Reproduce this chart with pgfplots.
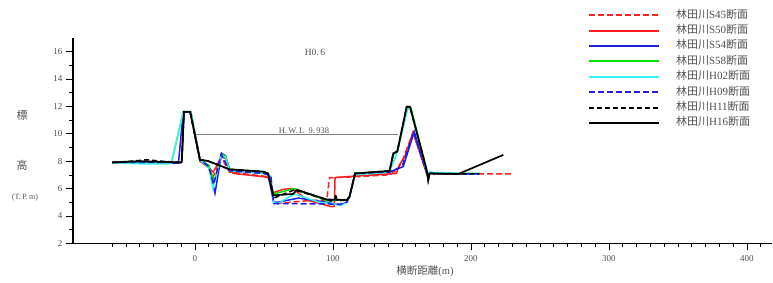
\documentclass[border=0pt]{standalone}
\usepackage{fontspec}
\setmainfont{Liberation Serif}
\newfontfamily\cjk{Noto Sans CJK JP}
\usepackage{pgfplots}
\pgfplotsset{compat=1.18}
\definecolor{cR}{RGB}{255,30,30}
\definecolor{cB}{RGB}{30,30,230}
\definecolor{cG}{RGB}{0,225,0}
\definecolor{cC}{RGB}{60,240,240}
\definecolor{txt}{RGB}{80,80,80}
\begin{document}
\begin{tikzpicture}
\useasboundingbox (0pt,0pt) rectangle (773pt,282pt);
\begin{axis}[
  at={(73pt,38.7pt)}, anchor=south west, scale only axis,
  width=698.8pt, height=205.5pt,
  xmin=-88.4, xmax=418, ymin=2, ymax=17,
  axis x line=bottom, axis y line=left,
  axis line style={-, line width=1.1pt, black},
  xtick={0,100,200,300,400}, minor xtick={-60,-50,...,410},
  ytick={2,4,...,16}, minor ytick={3,5,...,15},
  tick align=outside,
  major tick length=7pt, minor tick length=4pt,
  tick style={black, line width=0.6pt},
  ticklabel style={font=\fontsize{9}{10}\selectfont, text=txt},
  xticklabel style={yshift=-2pt},
  /pgf/number format/assume math mode=true,
  clip=false,
  legend cell align=left,
  legend image code/.code={\draw[line width=2pt,#1] (0pt,0pt) -- (70pt,0pt); \path (86pt,0pt);},
  legend style={at={(axis description cs:0.737,1.138)}, anchor=north west,
     draw=none, fill=none, inner sep=0pt, column sep=0pt, row sep=4.4pt,
     font=\fontsize{11}{12}\selectfont, text=txt,
     nodes={inner sep=0pt, text height=8.5pt, text depth=2.5pt}},
]
% S45
\addplot[cR, line width=1.5pt, dash pattern=on 6pt off 3pt] coordinates {
(-60,7.9) (-40,7.95) (-10,7.9) (-9.6,7.9) (-8,11.6) (-3.5,11.6) (3.6,8.0) (10,7.6) (13,6.8) (19,8.3) (25,7.2) (50,6.9) (54,6.8) (57,5.0) (60,4.9) (80,5.1) (95.5,5.16) (97.5,6.8) (101,6.8) (115,6.85) (141,7.0) (147,7.4) (151,8.2) (158,10.1) (168,7.06) (231,7.06)};
\addlegendentry{{\cjk 林田川}S45{\cjk 断面}}
% S50
\addplot[cR, line width=1.5pt] coordinates {
(-60,7.9) (-40,7.95) (-10,7.9) (-9.6,7.9) (-8,11.6) (-3.5,11.6) (3.6,8.0) (10,7.5) (13.3,7.2) (19,8.3) (22,8.2) (25,7.3) (27.8,7.1) (49.5,6.86) (53,6.8) (56.8,5.7) (64,5.94) (71,6.0) (81,5.16) (99,4.67) (101,4.7) (101.5,6.8) (114.7,6.9) (146,7.1) (148,7.7) (152,8.3) (158,10.1) (168,7.1) (206,7.06)};
\addlegendentry{{\cjk 林田川}S50{\cjk 断面}}
% S54
\addplot[cB, line width=1.5pt] coordinates {
(-60,7.9) (-40,7.9) (-12,7.85) (-8.5,11.6) (-3,11.6) (3.6,8.1) (10,7.6) (14.5,5.65) (19.3,8.57) (22,8.4) (25.4,7.3) (50,7.1) (53,7.0) (57,5.0) (60,5.0) (75,5.3) (95,5.0) (105,4.8) (110,5.0) (112,5.4) (116,7.1) (141,7.2) (150.9,7.6) (158.9,10.15) (168,7.1) (206,7.06)};
\addlegendentry{{\cjk 林田川}S54{\cjk 断面}}
% S58
\addplot[cG, line width=1.5pt] coordinates {
(-60,7.9) (-40,7.95) (-17,7.9) (-8.5,11.6) (-3,11.6) (3.6,8.1) (10,7.7) (14,6.5) (19,8.5) (22,8.4) (25,7.4) (50,7.2) (53,7.1) (57,5.6) (72,6.0) (96,5.1) (110,5.2) (112,5.4) (116,7.1) (141,7.28) (144,8.5) (147,8.8) (154,11.9) (156.5,11.9) (168,7.3) (169,6.8) (170,7.1) (206.5,7.1)};
\addlegendentry{{\cjk 林田川}S58{\cjk 断面}}
% H02
\addplot[cC, line width=1.5pt] coordinates {
(-60,7.9) (-40,7.8) (-20,7.8) (-17,7.85) (-8.5,11.6) (-3,11.6) (3.6,8.1) (10,7.5) (13,6.0) (19,8.4) (22,8.3) (25,7.3) (50,7.1) (55,6.9) (57,5.0) (60,4.9) (72,5.6) (90,5.0) (107,4.8) (110,5.0) (112,5.4) (116,7.0) (141,7.2) (146,8.5) (154,11.8) (156,11.8) (168,7.2) (206,7.06)};
\addlegendentry{{\cjk 林田川}H02{\cjk 断面}}
% H09
\addplot[cB, line width=1.5pt, dash pattern=on 6pt off 3pt] coordinates {
(-60,7.9) (-40,7.9) (-10,7.9) (-9.6,7.9) (-8,11.6) (-3.5,11.6) (3.6,8.1) (10,7.6) (13.5,6.3) (19,8.5) (25,7.3) (50,7.1) (55,6.9) (57,4.9) (97.8,4.87) (105,4.85) (110,5.0) (112,5.4) (116,7.1) (141,7.2) (150,7.6) (158.5,10.1) (168,7.1) (206,7.06)};
\addlegendentry{{\cjk 林田川}H09{\cjk 断面}}
% H11
\addplot[black, line width=1.5pt, dash pattern=on 5pt off 3pt] coordinates {
(-60,7.9) (-45,8.0) (-35,8.1) (-25,8.0) (-10,7.9) (-9.6,7.9) (-8,11.6) (-3.5,11.6) (3.6,8.1) (9.6,8.0) (25,7.4) (49.5,7.23) (53,7.1) (57,5.3) (72,5.9) (98,5.1) (101,5.1) (102,5.6) (103,5.1) (110,5.16) (112,5.4) (116,7.1) (141,7.28) (143.7,8.57) (146.6,8.7) (153.4,11.97) (155.8,11.97) (167.9,7.35) (169,6.6) (170,7.1) (190.8,7.06) (206,7.06)};
\addlegendentry{{\cjk 林田川}H11{\cjk 断面}}
% H16
\addplot[black, line width=1.7pt] coordinates {
(-60,7.9) (-40,8.0) (-25,7.95) (-10,7.9) (-9.6,7.95) (-8,11.6) (-3.5,11.6) (3.6,8.1) (9.6,8.0) (25,7.4) (49.5,7.23) (53,7.1) (56.8,5.5) (71,5.6) (74,5.9) (95.4,5.2) (110,5.16) (112,5.4) (116,7.1) (141,7.28) (143.7,8.57) (146.6,8.7) (153.4,11.97) (155.8,11.97) (167.9,7.35) (169,6.6) (170,7.1) (190.8,7.06) (223.4,8.45)};
\addlegendentry{{\cjk 林田川}H16{\cjk 断面}}
% HWL
\addplot[gray, line width=0.9pt, forget plot] coordinates {(1,9.938) (147,9.938)};
\node[anchor=south, inner sep=1.2pt, font=\fontsize{8.5}{9}\selectfont, text=txt] at (axis cs:79,9.938) {H.\,W.\,L\ \ 9.\,938};
\node[font=\fontsize{9.5}{10}\selectfont, text=txt] at (axis cs:87,15.9) {H0.\,6};
\end{axis}
\node[font=\fontsize{11}{12}\selectfont\cjk, text=txt] at (22pt,167pt) {標};
\node[font=\fontsize{11}{12}\selectfont\cjk, text=txt] at (22pt,117pt) {高};
\node[font=\fontsize{8}{9}\selectfont, text=txt] at (25pt,84pt) {(T.\,P.\,m)};
\node[font=\fontsize{10.5}{11}\selectfont, text=txt] at (425pt,11pt) {{\cjk 横断距離}(m)};
\end{tikzpicture}
\end{document}
